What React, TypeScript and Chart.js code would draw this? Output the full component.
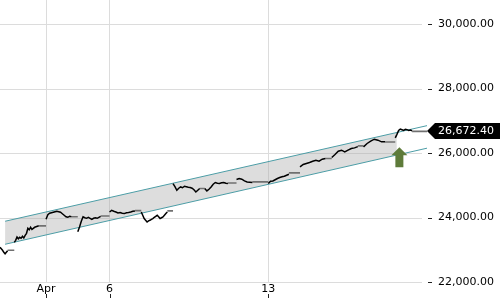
import React, { useEffect, useRef } from 'react';
import { Chart, registerables } from 'chart.js';

Chart.register(...registerables);

// ---- data ----
const tickPos = [2, 4, 9];
const tickLabels = ['Apr', '6', '13'];
const yTicks = [22000, 24000, 26000, 28000, 30000];
const yMin = 22000;
const yMax = 30744;
const xMin = 0.55;
const xMax = 14.0;

const mar30 = [23076, 23030, 22983, 22921, 22874, 22921, 22968];
const mar31 = [23231, 23293, 23396, 23340, 23386, 23355, 23417, 23365, 23448, 23510, 23666, 23619, 23697, 23634, 23666, 23697, 23712, 23728, 23743];
const apr01 = [23945, 24085, 24131, 24147, 24162, 24178, 24194, 24178, 24162, 24116, 24069, 24023, 24007, 24038, 24023];
const apr02 = [23557, 23706, 23883, 24023, 23992, 23976, 24007, 23976, 23945, 23976, 23992, 23976, 24007, 24038];
const apr06 = [24172, 24224, 24193, 24172, 24141, 24153, 24131, 24122, 24147, 24153, 24172, 24193, 24205];
const apr07 = [24172, 24069, 23967, 23914, 23861, 23898, 23914, 23945, 23967, 24007, 24038, 24069, 24023, 23967, 23992, 24017, 24069, 24122, 24172];
const apr08 = [25054, 24955, 24846, 24908, 24948, 24923, 24970, 24955, 24939, 24930, 24908, 24861, 24793, 24846, 24899];
const apr09 = [24899, 24824, 24877, 24948, 25032, 25085, 25063, 25054, 25079, 25085, 25063, 25054];
const apr12 = [25178, 25209, 25187, 25134, 25103, 25094, 25085];
const apr13 = [25054, 25125, 25134, 25172, 25209, 25240, 25265, 25280, 25312, 25343];
const apr14 = [25569, 25644, 25675, 25706, 25746, 25777, 25746, 25808, 25830];
const apr15 = [25861, 25954, 26057, 26088, 26035, 26088, 26141, 26159, 26197];
const apr16 = [26190, 26296, 26367, 26429, 26398, 26346, 26346];
const apr19 = [26470, 26580, 26700, 26740, 26720, 26700, 26735, 26725, 26700, 26710, 26690];

const sessionPrices = [mar30, mar31, apr01, apr02, apr06, apr07, apr08, apr09, apr12, apr13, apr14, apr15, apr16, apr19];
const sessionStart = [0.55, 0, 0, 0, 0, 0, 0, 0, 0, 0, 0, 0, 0, 0];
const sessionEnd = [0.79, 0.77, 0.8, 0.72, 0.8, 0.82, 0.84, 0.73, 0.5, 0.65, 0.8, 0.82, 0.68, 0.53];
const sessionTail = [22983, 23740, 24025, 24047, 24215, 24205, 24899, 25072, 25105, 25383, 25830, 26221, 26340, 26672.4];
const lastPrice = 26672.4;

const channelX = [0.71, 14.0];
const channelUpper = [23884, 26849];
const channelLower = [23170, 26150];
const bandX = [0.71, 13.05];
const bandUpper = [23884, 26638];
const bandLower = [23170, 25939];

const arrowX = 13.13;
const arrowTip = 26181;
const arrowBase = 25560;

// ---- build ----
const fmt = (v: number) =>
  v.toLocaleString('en-US', { minimumFractionDigits: 2, maximumFractionDigits: 2 });

function buildSeries() {
  const black: any[] = [];
  const tails: any[] = [];
  sessionPrices.forEach((vals, i) => {
    const s = sessionStart[i];
    const e = sessionEnd[i];
    const n = vals.length;
    vals.forEach((v, j) => {
      black.push({ x: i + s + ((e - s) * j) / (n - 1), y: v });
    });
    black.push({ x: i + e + 0.01, y: null });
    tails.push({ x: i + e, y: sessionTail[i] });
    tails.push({ x: i + 1, y: sessionTail[i] });
    tails.push({ x: i + 1.001, y: null });
  });
  return { black, tails };
}

const FONT = { family: 'DejaVu Sans', size: 11 };

const decor = {
  id: 'decor',
  beforeDatasetsDraw(chart: any) {
    const { ctx, chartArea, scales } = chart;
    const y = scales.y;
    ctx.save();
    ctx.lineWidth = 1;
    for (const v of yTicks) {
      const py = Math.round(y.getPixelForValue(v)) + 0.5;
      ctx.strokeStyle = '#dcdcdc';
      ctx.beginPath();
      ctx.moveTo(chartArea.left, py);
      ctx.lineTo(chartArea.right - 5, py);
      ctx.stroke();
      ctx.strokeStyle = '#222';
      ctx.beginPath();
      ctx.moveTo(chartArea.right + 1, py);
      ctx.lineTo(chartArea.right + 5, py);
      ctx.stroke();
    }
    ctx.restore();
  },
  afterDatasetsDraw(chart: any) {
    const { ctx, scales } = chart;
    const cx = scales.x.getPixelForValue(arrowX);
    const ty = scales.y.getPixelForValue(arrowTip);
    const by = scales.y.getPixelForValue(arrowBase);
    ctx.save();
    ctx.fillStyle = '#5e7b3a';
    ctx.beginPath();
    ctx.moveTo(cx, ty);
    ctx.lineTo(cx + 8, ty + 8);
    ctx.lineTo(cx + 4, ty + 8);
    ctx.lineTo(cx + 4, by);
    ctx.lineTo(cx - 4, by);
    ctx.lineTo(cx - 4, ty + 8);
    ctx.lineTo(cx - 8, ty + 8);
    ctx.closePath();
    ctx.fill();
    ctx.restore();
  },
  afterDraw(chart: any) {
    const { ctx, chartArea, scales } = chart;
    ctx.save();
    ctx.strokeStyle = '#222';
    ctx.lineWidth = 1;
    for (const v of tickPos) {
      const px = Math.round(scales.x.getPixelForValue(v)) + 0.5;
      ctx.beginPath();
      ctx.moveTo(px, chartArea.bottom + 12);
      ctx.lineTo(px, chartArea.bottom + 16);
      ctx.stroke();
    }
    const py = Math.round(scales.y.getPixelForValue(lastPrice));
    const r = chartArea.right;
    ctx.fillStyle = '#000';
    ctx.beginPath();
    ctx.moveTo(r, py);
    ctx.lineTo(r + 8, py - 8);
    ctx.lineTo(500, py - 8);
    ctx.lineTo(500, py + 8);
    ctx.lineTo(r + 8, py + 8);
    ctx.closePath();
    ctx.fill();
    ctx.fillStyle = '#fff';
    ctx.font = '11px "DejaVu Sans"';
    ctx.textBaseline = 'middle';
    ctx.textAlign = 'left';
    ctx.fillText(fmt(lastPrice), r + 11, py + 0.5);
    ctx.restore();
  },
};

export default function App() {
  const ref = useRef<HTMLCanvasElement>(null);
  useEffect(() => {
    if (!ref.current) return;
    const { black, tails } = buildSeries();
    const chart = new Chart(ref.current, {
      type: 'line',
      data: {
        datasets: [
          { data: black, borderColor: '#000', borderWidth: 1.5, pointRadius: 0, tension: 0, spanGaps: false, fill: false },
          { data: tails, borderColor: '#707070', borderWidth: 1.6, pointRadius: 0, tension: 0, spanGaps: false, fill: false },
          { data: channelX.map((x, i) => ({ x, y: channelUpper[i] })), borderColor: '#4c9da6', borderWidth: 1, pointRadius: 0, fill: false },
          { data: channelX.map((x, i) => ({ x, y: channelLower[i] })), borderColor: '#4c9da6', borderWidth: 1, pointRadius: 0, fill: false },
          { data: bandX.map((x, i) => ({ x, y: bandLower[i] })), borderWidth: 0, borderColor: 'rgba(0,0,0,0)', pointRadius: 0, fill: false },
          { data: bandX.map((x, i) => ({ x, y: bandUpper[i] })), borderWidth: 0, borderColor: 'rgba(0,0,0,0)', pointRadius: 0, fill: '-1', backgroundColor: 'rgba(170,170,170,0.4)' },
        ] as any,
      },
      options: {
        animation: false,
        responsive: false,
        devicePixelRatio: 1,
        layout: { padding: 0 },
        plugins: { legend: { display: false }, tooltip: { enabled: false }, title: { display: false } },
        scales: {
          x: {
            type: 'linear',
            min: xMin,
            max: xMax,
            afterBuildTicks: (s: any) => { s.ticks = tickPos.map((v) => ({ value: v })); },
            afterFit: (s: any) => { s.height = 18; },
            grid: { color: '#dcdcdc', drawTicks: false },
            border: { display: false },
            ticks: {
              autoSkip: false,
              maxRotation: 0,
              padding: 1,
              color: '#000',
              font: FONT,
              callback: (v: any) => tickLabels[tickPos.indexOf(v)] ?? '',
            },
          },
          y: {
            position: 'right',
            min: yMin,
            max: yMax,
            afterBuildTicks: (s: any) => { s.ticks = yTicks.map((v) => ({ value: v })); },
            afterFit: (s: any) => { s.width = 73; },
            grid: { display: false, drawTicks: true, tickLength: 11 },
            border: { display: false },
            ticks: {
              padding: 0,
              color: '#000',
              font: { family: 'DejaVu Sans', size: 11, lineHeight: 0.01 },
              callback: (v: any) => fmt(Number(v)),
            },
          },
        },
      } as any,
      plugins: [decor],
    });
    return () => chart.destroy();
  }, []);
  return (
    <div style={{ position: 'fixed', left: 0, top: 0, width: 500, height: 300, background: '#fff' }}>
      <canvas ref={ref} width={500} height={300} style={{ width: 500, height: 300 }} />
    </div>
  );
}
